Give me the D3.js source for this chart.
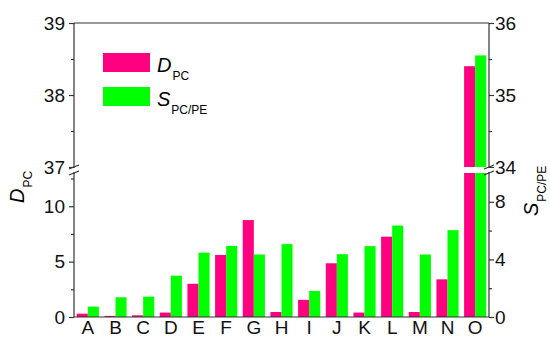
<!DOCTYPE html>
<html>
<head>
<meta charset="utf-8">
<script src="https://cdn.jsdelivr.net/npm/d3@7"></script>
<style>
  body { margin: 0; background: #fff; }
  svg { font-family: "Liberation Sans", Arial, sans-serif; }
</style>
</head>
<body>
<div id="chart"></div>
<script>
// Data
var categories = ['A', 'B', 'C', 'D', 'E', 'F', 'G', 'H', 'I', 'J', 'K', 'L', 'M', 'N', 'O']
var dpcValues = [0.3, 0.1, 0.15, 0.4, 3.0, 5.6, 8.75, 0.45, 1.55, 4.85, 0.4, 7.25, 0.45, 3.4, 38.4]
var spcValues = [0.72, 1.37, 1.41, 2.87, 4.47, 4.94, 4.34, 5.06, 1.81, 4.36, 4.92, 6.35, 4.34, 6.03, 35.55]
var leftLowTicks = [0, 5, 10]
var leftHighTicks = [37, 38, 39]
var rightLowTicks = [0, 4, 8]
var rightHighTicks = [34, 35, 36]

var width = 550
var height = 339
var plotLeft = 74, plotRight = 489, plotTop = 23, plotBottom = 317
var breakTop = 167, breakBottom = 173
var pink = '#ff0080', green = '#00ff00'

var svg = d3.select('#chart').append('svg')
  .attr('width', width)
  .attr('height', height)

// Scales
var x = d3.scaleBand().domain(categories).range([plotLeft, plotRight])
  .paddingInner(0.2).paddingOuter(0.1)
var sub = d3.scaleBand().domain(['d', 's']).range([0, x.bandwidth()])

var yLeftLow = d3.scaleLinear().domain([0, 13]).range([plotBottom, breakBottom])
var yLeftHigh = d3.scaleLinear().domain([37, 39]).range([breakTop, plotTop])
var yRightLow = d3.scaleLinear().domain([0, 10]).range([plotBottom, breakBottom])
var yRightHigh = d3.scaleLinear().domain([34, 36]).range([breakTop, plotTop])

// Bars, split at the break
function drawSeries(values, key, color, low, high) {
  var g = svg.append('g').attr('fill', color)
  values.forEach(function (v, i) {
    var bx = x(categories[i]) + sub(key)
    var lowMax = low.domain()[1]
    var lv = Math.min(v, lowMax)
    g.append('rect')
      .attr('x', bx)
      .attr('width', sub.bandwidth())
      .attr('y', low(lv))
      .attr('height', low(0) - low(lv))
    if (v > lowMax) {
      g.append('rect')
        .attr('x', bx)
        .attr('width', sub.bandwidth())
        .attr('y', high(v))
        .attr('height', high(high.domain()[0]) - high(v))
    }
  })
}
drawSeries(dpcValues, 'd', pink, yLeftLow, yLeftHigh)
drawSeries(spcValues, 's', green, yRightLow, yRightHigh)

// Frame
var frame = svg.append('g').attr('stroke', '#333').attr('stroke-width', 1.2).attr('fill', 'none')
frame.append('line').attr('x1', plotLeft).attr('x2', plotRight).attr('y1', plotTop).attr('y2', plotTop)
frame.append('line').attr('x1', plotLeft).attr('x2', plotRight).attr('y1', plotBottom).attr('y2', plotBottom)
frame.append('line').attr('x1', plotLeft).attr('x2', plotLeft).attr('y1', plotTop).attr('y2', plotBottom)
frame.append('line').attr('x1', plotRight).attr('x2', plotRight).attr('y1', plotTop).attr('y2', plotBottom)

// Axes
function styleAxis(g) {
  g.select('.domain').remove()
  g.selectAll('line').attr('stroke', '#333').attr('stroke-width', 1.2)
  g.selectAll('text').attr('font-size', 19).attr('fill', '#111')
}
function minor(scale, step) {
  var d = scale.domain(), out = []
  for (var v = d[0] + step / 2; v < d[1]; v += step) out.push(v)
  return out
}

svg.append('g').attr('transform', 'translate(' + plotLeft + ',0)')
  .call(d3.axisLeft(yLeftLow).tickValues(leftLowTicks).tickSize(5).tickPadding(4).tickFormat(d3.format('d'))).call(styleAxis)
svg.append('g').attr('transform', 'translate(' + plotLeft + ',0)')
  .call(d3.axisLeft(yLeftHigh).tickValues(leftHighTicks).tickSize(5).tickPadding(4).tickFormat(d3.format('d'))).call(styleAxis)
svg.append('g').attr('transform', 'translate(' + plotLeft + ',0)')
  .call(d3.axisLeft(yLeftLow).tickValues(minor(yLeftLow, 5)).tickSize(3).tickFormat('')).call(styleAxis)
svg.append('g').attr('transform', 'translate(' + plotLeft + ',0)')
  .call(d3.axisLeft(yLeftHigh).tickValues(minor(yLeftHigh, 1)).tickSize(3).tickFormat('')).call(styleAxis)

svg.append('g').attr('transform', 'translate(' + plotRight + ',0)')
  .call(d3.axisRight(yRightLow).tickValues(rightLowTicks).tickSize(5).tickPadding(1).tickFormat(d3.format('d'))).call(styleAxis)
svg.append('g').attr('transform', 'translate(' + plotRight + ',0)')
  .call(d3.axisRight(yRightHigh).tickValues(rightHighTicks).tickSize(5).tickPadding(1).tickFormat(d3.format('d'))).call(styleAxis)
svg.append('g').attr('transform', 'translate(' + plotRight + ',0)')
  .call(d3.axisRight(yRightLow).tickValues(minor(yRightLow, 4)).tickSize(3).tickFormat('')).call(styleAxis)
svg.append('g').attr('transform', 'translate(' + plotRight + ',0)')
  .call(d3.axisRight(yRightHigh).tickValues(minor(yRightHigh, 1)).tickSize(3).tickFormat('')).call(styleAxis)

svg.append('g').attr('transform', 'translate(0,' + plotBottom + ')')
  .call(d3.axisBottom(x).tickSize(0).tickPadding(4)).call(styleAxis)

// Break gap and marks
svg.append('rect').attr('x', plotLeft - 6).attr('width', plotRight - plotLeft + 12)
  .attr('y', breakTop + 1).attr('height', breakBottom - breakTop - 2).attr('fill', '#fff')
;[plotLeft, plotRight].forEach(function (ax) {
  ;[breakTop, breakBottom].forEach(function (by) {
    svg.append('line')
      .attr('x1', ax - 5).attr('x2', ax + 5)
      .attr('y1', by + 2).attr('y2', by - 2)
      .attr('stroke', '#333').attr('stroke-width', 1.2)
  })
})

// Axis titles (main letter italic, subscript smaller and dropped)
function titled(t, label, subText) {
  t.append('tspan').attr('font-style', 'italic').text(label)
  t.append('tspan').attr('font-size', 12).attr('dy', 8).attr('dx', 1).text(subText)
}
svg.append('text')
  .attr('transform', 'translate(24,203) rotate(-90)')
  .attr('font-size', 20)
  .call(titled, 'D', 'PC')
svg.append('text')
  .attr('transform', 'translate(538,216) rotate(-90)')
  .attr('font-size', 20)
  .call(titled, 'S', 'PC/PE')

// Legend
var legend = [
  { label: 'D', sub: 'PC', color: pink, y: 53 },
  { label: 'S', sub: 'PC/PE', color: green, y: 87 }
]
legend.forEach(function (d) {
  svg.append('rect').attr('x', 103).attr('y', d.y).attr('width', 47).attr('height', 19).attr('fill', d.color)
  svg.append('text').attr('x', 157).attr('y', d.y + 19).attr('font-size', 20)
    .call(titled, d.label, d.sub)
})
</script>
</body>
</html>
